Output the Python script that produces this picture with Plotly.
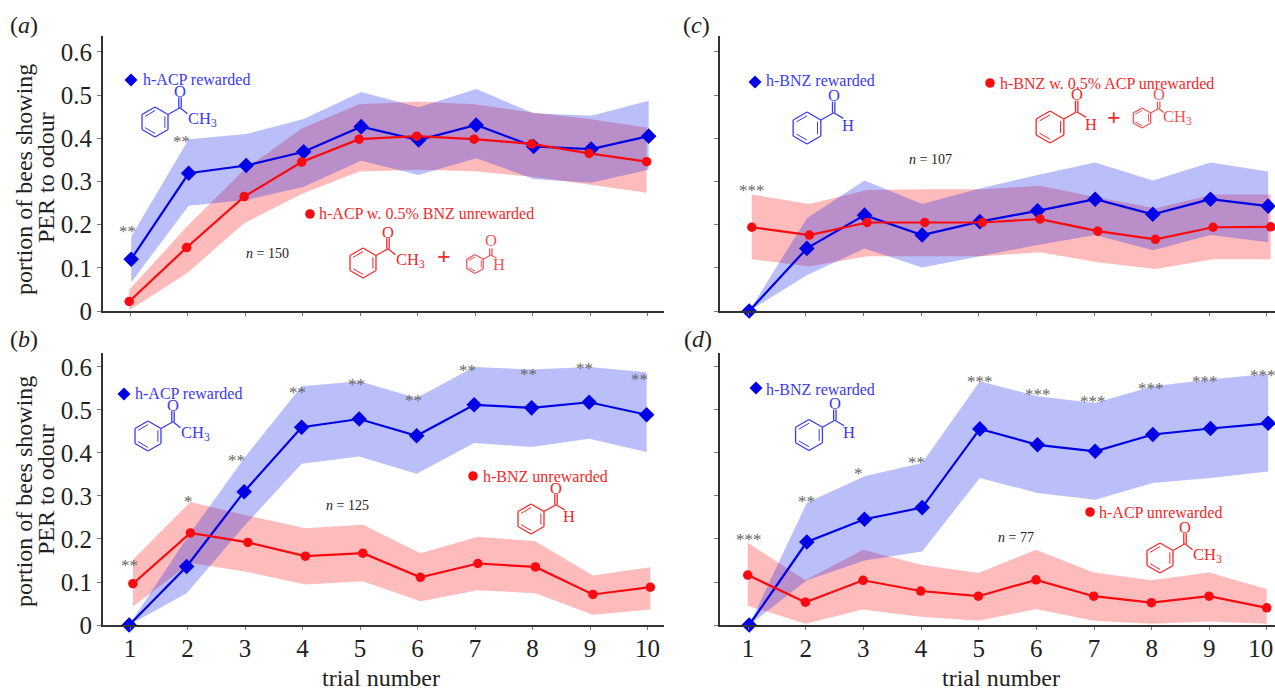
import math
import plotly.graph_objects as go

W, H = 1275, 690
trials = [1, 2, 3, 4, 5, 6, 7, 8, 9, 10]
y_ticks = [0, 0.1, 0.2, 0.3, 0.4, 0.5, 0.6]
y_tick_labels = ["0", "0.1", "0.2", "0.3", "0.4", "0.5", "0.6"]

a_blue = [0.120, 0.319, 0.337, 0.369, 0.427, 0.396, 0.431, 0.381, 0.375, 0.405]
a_blue_hi = [0.172, 0.398, 0.410, 0.445, 0.507, 0.472, 0.514, 0.458, 0.452, 0.487]
a_blue_lo = [0.066, 0.244, 0.257, 0.288, 0.348, 0.315, 0.354, 0.306, 0.297, 0.327]
a_red = [0.022, 0.147, 0.265, 0.345, 0.398, 0.405, 0.398, 0.387, 0.365, 0.346]
a_red_hi = [0.049, 0.195, 0.327, 0.423, 0.479, 0.485, 0.479, 0.460, 0.445, 0.425]
a_red_lo = [0.002, 0.087, 0.203, 0.271, 0.323, 0.327, 0.324, 0.311, 0.293, 0.274]

b_blue = [0.0, 0.136, 0.310, 0.460, 0.479, 0.440, 0.512, 0.505, 0.518, 0.489]
b_blue_hi = [0.0, 0.202, 0.388, 0.555, 0.567, 0.528, 0.600, 0.594, 0.600, 0.588]
b_blue_lo = [0.0, 0.074, 0.230, 0.375, 0.392, 0.352, 0.423, 0.414, 0.433, 0.402]
b_red = [0.096, 0.214, 0.192, 0.160, 0.167, 0.111, 0.143, 0.135, 0.071, 0.088]
b_red_hi = [0.152, 0.286, 0.254, 0.225, 0.233, 0.167, 0.205, 0.195, 0.115, 0.134]
b_red_lo = [0.043, 0.144, 0.123, 0.094, 0.102, 0.055, 0.081, 0.074, 0.024, 0.036]

c_blue = [0.0, 0.145, 0.222, 0.176, 0.207, 0.232, 0.259, 0.224, 0.259, 0.243]
c_blue_hi = [0.0, 0.215, 0.302, 0.248, 0.284, 0.315, 0.344, 0.302, 0.344, 0.323]
c_blue_lo = [0.0, 0.083, 0.145, 0.101, 0.127, 0.153, 0.176, 0.141, 0.176, 0.159]
c_red = [0.194, 0.176, 0.205, 0.205, 0.205, 0.213, 0.185, 0.166, 0.194, 0.195]
c_red_hi = [0.270, 0.248, 0.280, 0.282, 0.282, 0.290, 0.263, 0.238, 0.270, 0.270]
c_red_lo = [0.120, 0.103, 0.127, 0.127, 0.127, 0.136, 0.113, 0.097, 0.120, 0.120]

d_blue = [0.0, 0.193, 0.246, 0.273, 0.456, 0.419, 0.404, 0.443, 0.457, 0.469]
d_blue_hi = [0.0, 0.284, 0.346, 0.377, 0.567, 0.532, 0.516, 0.555, 0.571, 0.584]
d_blue_lo = [0.0, 0.104, 0.150, 0.171, 0.342, 0.307, 0.291, 0.330, 0.342, 0.357]
d_red = [0.116, 0.053, 0.104, 0.079, 0.067, 0.105, 0.067, 0.052, 0.067, 0.040]
d_red_hi = [0.191, 0.104, 0.175, 0.140, 0.121, 0.175, 0.122, 0.104, 0.122, 0.084]
d_red_lo = [0.045, 0.003, 0.036, 0.019, 0.010, 0.037, 0.010, 0.003, 0.008, 0.003]

BLUE = "#0000e6"
RED = "#f80a10"
BLUE_TXT = "#3a3af0"
RED_TXT = "#f02a2a"
RED_PALE = "#f25555"
BLUE_FILL = "rgba(20,35,235,0.29)"
RED_FILL = "rgba(250,10,10,0.28)"
AXIS = "#333333"
SERIF = "Liberation Serif"

# panel geometry in pixels: left, right, bottom, top, x-range, y-top; dodge = series shift in trial units
panels = {
    "a": dict(px=(103, 664), py=(311, 36), xr=(0.53, 10.287), ytop=0.637, labels=(False, True), dodge=(0.02, -0.015),
              data=(a_blue, a_blue_hi, a_blue_lo, a_red, a_red_hi, a_red_lo)),
    "b": dict(px=(103, 664), py=(625, 353), xr=(0.53, 10.287), ytop=0.6325, labels=(True, True), dodge=(-0.015, 0.05),
              data=(b_blue, b_blue_hi, b_blue_lo, b_red, b_red_hi, b_red_lo)),
    "c": dict(px=(720, 1275), py=(311, 36), xr=(0.514, 10.139), ytop=0.637, labels=(False, False), dodge=(0.02, 0.065),
              data=(c_blue, c_blue_hi, c_blue_lo, c_red, c_red_hi, c_red_lo)),
    "d": dict(px=(720, 1275), py=(625, 353), xr=(0.514, 10.139), ytop=0.6325, labels=(True, False), dodge=(0.02, -0.005),
              data=(d_blue, d_blue_hi, d_blue_lo, d_red, d_red_hi, d_red_lo)),
}

fig = go.Figure()
shapes, notes = [], []


def px(x):
    return x / W


def py(y):
    return 1 - y / H


def text(x, y, s, size, color="#222222", anchor="center", angle=0):
    notes.append(dict(x=px(x), y=py(y), xref="paper", yref="paper", text=s, showarrow=False,
                      xanchor=anchor, yanchor="middle", textangle=angle, borderpad=0, borderwidth=0,
                      font=dict(family=SERIF, size=size, color=color)))


def seg(x0, y0, x1, y1, color, w=1.3):
    shapes.append(dict(type="line", xref="paper", yref="paper", x0=px(x0), y0=py(y0), x1=px(x1), y1=py(y1),
                       line=dict(color=color, width=w)))


def diamond(x, y, r, color):
    path = f"M {px(x)} {py(y - r)} L {px(x + r)} {py(y)} L {px(x)} {py(y + r)} L {px(x - r)} {py(y)} Z"
    shapes.append(dict(type="path", xref="paper", yref="paper", path=path, fillcolor=color, line=dict(width=0)))


def dot(x, y, r, color):
    shapes.append(dict(type="circle", xref="paper", yref="paper", x0=px(x - r), x1=px(x + r), y0=py(y + r),
                       y1=py(y - r), fillcolor=color, line=dict(width=0)))


def molecule(cx, cy, R, color, kind):
    size = 16.5
    small = R < 12
    v = [(cx + R * math.cos(math.radians(60 * i - 90)), cy + R * math.sin(math.radians(60 * i - 90)))
         for i in range(6)]
    for i in range(6):
        seg(*v[i], *v[(i + 1) % 6], color)
    for i in (1, 3, 5):
        a, b = v[i], v[(i + 1) % 6]
        f = 0.76
        seg(cx + (a[0] - cx) * f, cy + (a[1] - cy) * f, cx + (b[0] - cx) * f, cy + (b[1] - cy) * f, color, 1.0)
    sx, sy = v[1]
    c = (sx + R * 0.8, sy - R * 0.45)
    seg(sx, sy, *c, color)
    seg(c[0] - 1.2, c[1], c[0] - 1.2, c[1] - R * 0.7, color)
    seg(c[0] + 1.2, c[1], c[0] + 1.2, c[1] - R * 0.7, color)
    text(c[0], c[1] - (14 if small else R * 1.08), "O", size, color)
    if kind == "acp":
        seg(c[0], c[1], c[0] + R * 0.5, c[1] + R * 0.4, color)
        text(c[0] + (4 if small else 8), c[1] + (9 if small else 11), "CH<sub>3</sub>", size, color, anchor="left")
    else:
        seg(c[0], c[1], c[0] + R * 0.6, c[1] + R * 0.35, color)
        text(c[0] + (8.5 if small else R * 0.9), c[1] + (9.5 if small else R * 0.78), "H", size, color)


for name, p in panels.items():
    idx = {"a": "", "b": "2", "c": "3", "d": "4"}[name]
    xa, ya = "x" + idx, "y" + idx
    blue, blue_hi, blue_lo, red, red_hi, red_lo = p["data"]
    bx = [t + p["dodge"][0] for t in trials]
    rx = [t + p["dodge"][1] for t in trials]
    fig.add_trace(go.Scatter(x=rx + rx[::-1], y=red_hi + red_lo[::-1], fill="toself", fillcolor=RED_FILL,
                             mode="none", xaxis=xa, yaxis=ya, hoverinfo="skip", showlegend=False))
    fig.add_trace(go.Scatter(x=bx + bx[::-1], y=blue_hi + blue_lo[::-1], fill="toself", fillcolor=BLUE_FILL,
                             mode="none", xaxis=xa, yaxis=ya, hoverinfo="skip", showlegend=False))
    fig.add_trace(go.Scatter(x=bx, y=blue, mode="lines+markers", xaxis=xa, yaxis=ya, showlegend=False,
                             cliponaxis=False, line=dict(color=BLUE, width=2.2),
                             marker=dict(symbol="diamond", size=12, color=BLUE)))
    fig.add_trace(go.Scatter(x=rx, y=red, mode="lines+markers", xaxis=xa, yaxis=ya, showlegend=False,
                             cliponaxis=False, line=dict(color=RED, width=2.2),
                             marker=dict(symbol="circle", size=9.5, color=RED)))
    show_x, show_y = p["labels"]
    tick_text = [str(t) for t in trials]
    if name == "d":
        # the last label sits against the page edge: pad it so it stays whole
        tick_text[-1] = "10\u00a0\u00a0"
    fig.update_layout({
        "xaxis" + idx: dict(domain=[px(p["px"][0]), px(p["px"][1])], range=list(p["xr"]), tickmode="array",
                            tickvals=trials, ticktext=tick_text, showticklabels=show_x,
                            ticks="outside", ticklen=3, tickwidth=1, tickcolor="#777777", showgrid=False,
                            zeroline=False, showline=True, linecolor=AXIS, linewidth=2, anchor=ya,
                            automargin=False, ticklabeloverflow="allow", ticklabelstandoff=-3,
                            tickfont=dict(family=SERIF, size=25, color="#222222")),
        "yaxis" + idx: dict(domain=[py(p["py"][0]), py(p["py"][1])], range=[0, p["ytop"]], tickmode="array",
                            tickvals=y_ticks, ticktext=y_tick_labels, showticklabels=show_y,
                            ticks="outside", ticklen=4, tickwidth=1, tickcolor="#777777", showgrid=False,
                            zeroline=False, showline=True, linecolor=AXIS, linewidth=2, anchor=xa,
                            automargin=False,
                            tickfont=dict(family=SERIF, size=25, color="#222222")),
    })

for x, y, s in [(24, 25, "(<i>a</i>)"), (24, 339, "(<i>b</i>)"), (696, 25, "(<i>c</i>)"), (698, 339, "(<i>d</i>)")]:
    text(x, y, s, 24, "#222222")

for cy in (180, 492):
    text(24, cy, "portion of bees showing", 24, "#222222", angle=-90)
    text(46, cy - 2, "PER to odour", 24, "#222222", angle=-90)
text(381, 678, "trial number", 24, "#222222")
text(1001, 678, "trial number", 24, "#222222")

legend_items = [
    (diamond, 131, 80, BLUE, "h-ACP rewarded", 143, 79, BLUE_TXT),
    (dot, 310, 214, RED, "h-ACP w. 0.5% BNZ unrewarded", 319, 213, RED_TXT),
    (diamond, 755, 82, BLUE, "h-BNZ rewarded", 766, 81, BLUE_TXT),
    (dot, 990, 83, RED, "h-BNZ w. 0.5% ACP unrewarded", 1000, 83, RED_TXT),
    (diamond, 124, 394, BLUE, "h-ACP rewarded", 135, 393, BLUE_TXT),
    (dot, 473, 476, RED, "h-BNZ unrewarded", 483, 476, RED_TXT),
    (diamond, 756, 388, BLUE, "h-BNZ rewarded", 766, 389, BLUE_TXT),
    (dot, 1090, 512, RED, "h-ACP unrewarded", 1099, 512, RED_TXT),
]
for fn, mx, my, col, label, tx, ty, tcol in legend_items:
    fn(mx, my, 6.5 if fn is diamond else 4.8, col)
    text(tx, ty, label, 16, tcol, anchor="left")

molecule(155, 122, 15, BLUE_TXT, "acp")
molecule(363, 263, 15, RED_TXT, "acp")
molecule(475, 264, 9.5, RED_PALE, "bnz")
molecule(807, 128, 16, BLUE_TXT, "bnz")
molecule(1050, 127, 16, RED_TXT, "bnz")
molecule(1142, 118, 10, RED_PALE, "acp")
molecule(148, 436, 15, BLUE_TXT, "acp")
molecule(531, 519, 15, RED_TXT, "bnz")
molecule(809, 435, 15.5, BLUE_TXT, "bnz")
molecule(1160, 558, 15, RED_TXT, "acp")
text(444, 256, "<b>+</b>", 24, RED_TXT)
text(1114, 117, "<b>+</b>", 24, RED_TXT)

for x, y, s in [(267, 253, "150"), (930, 159, "107"), (347, 505, "125"), (1016, 537, "77")]:
    text(x, y, f"<i>n</i> = {s}", 14, "#222222")

stars = [
    (127, 228, "**"), (182, 138, "**"), (752, 187, "***"),
    (129, 562, "**"), (188, 499, "*"), (236, 457, "**"), (297, 389, "**"), (356, 381, "**"), (413, 397, "**"),
    (467, 367, "**"), (528, 371, "**"), (584, 365, "**"), (639, 376, "**"),
    (749, 536, "***"), (806, 499, "**"), (858, 470, "*"), (916, 459, "**"), (980, 379, "***"), (1038, 391, "***"),
    (1093, 398, "***"), (1151, 385, "***"), (1205, 378, "***"), (1263, 372, "***"),
]
for x, y, s in stars:
    text(x, y + 3, s, 17, "#666666")

fig.update_layout(width=W, height=H, margin=dict(l=0, r=0, t=0, b=0, autoexpand=False), autosize=False,
                  paper_bgcolor="white", plot_bgcolor="white", shapes=shapes, annotations=notes,
                  showlegend=False)
fig.write_html("out.html", config={"displayModeBar": False}, post_script="document.body.style.margin='0';")
